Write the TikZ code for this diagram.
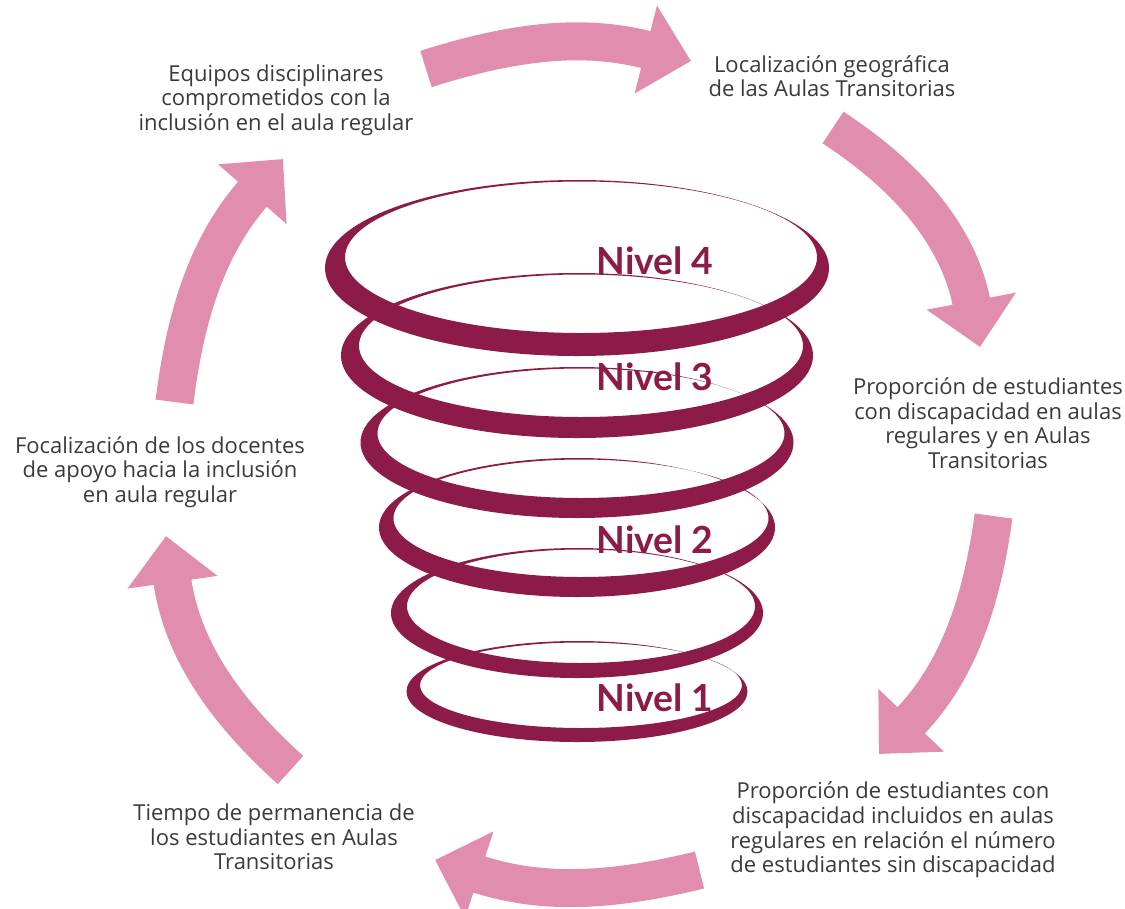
\documentclass[tikz,border=0pt]{standalone}
\usepackage{fontspec}
\setmainfont{Lato}
\newfontfamily\bodyfont{Open Sans}
\usetikzlibrary{arrows.meta}
\definecolor{ringred}{HTML}{8C1C47}
\definecolor{arrowpink}{HTML}{E08DAE}
\definecolor{textgray}{HTML}{3A3A3A}
\tikzset{bigarrow/.style={line width=28.5pt,draw=arrowpink,-{Triangle[length=35pt,width=66pt]}}}
\tikzset{infotext/.style={align=center,text=textgray,font=\bodyfont\fontsize{16.5}{18.4}\selectfont}}
\tikzset{leveltext/.style={text=ringred,font=\bfseries\fontsize{28}{30}\selectfont}}
\tikzset{ring/.style={fill=ringred,even odd rule}}

\begin{document}
\begin{tikzpicture}[x=0.75pt,y=0.75pt] % pixel grid, y taken negative
  \useasboundingbox (0,0) rectangle (1125,-908);

  % rings: outer ellipse minus a smaller one pushed up
  \foreach \cy/\rx/\ry/\cyi/\rxi/\ryi in {268/252/88/257.25/236/75.75,
      355.5/236/82.5/345.75/222/71.25, 442.5/216.5/75.5/433.25/203.5/64.75,
      527.5/198/69.5/518.25/187.5/58.75, 613/186/65/606.25/174/56.75,
      691.5/170.5/50.5/685.25/161/42.75}
    \fill[ring] (577,-\cy) ellipse [x radius=\rx, y radius=\ry]
                (581,-\cyi) ellipse [x radius=\rxi, y radius=\ryi];

  \node[leveltext] (n4) at (655,-261) {Nivel 4};
  \node[leveltext] (n3) at (655,-377) {Nivel 3};
  \node[leveltext] (n2) at (655,-540) {Nivel 2};
  \node[leveltext] (n1) at (655,-698) {Nivel 1};

  \node[infotext] (equipos) at (276,-100) {Equipos disciplinares\\comprometidos con la\\inclusión en el aula regular};
  \node[infotext] (localiz) at (832,-76) {Localización geográfica\\de las Aulas Transitorias};
  \node[infotext] (propaulas) at (988,-423) {Proporción de estudiantes\\con discapacidad en aulas\\regulares y en Aulas\\Transitorias};
  \node[infotext] (propnum) at (893,-830) {Proporción de estudiantes con\\discapacidad incluidos en aulas\\regulares en relación el número\\de estudiantes sin discapacidad};
  \node[infotext] (tiempo) at (274,-837) {Tiempo de permanencia de\\los estudiantes en Aulas\\Transitorias};
  \node[infotext] (focal) at (160,-472) {Focalización de los docentes\\de apoyo hacia la inclusión\\en aula regular};

  % arrow ends
  \coordinate (a1s) at (426,-69);    \coordinate (a1e) at (691,-61);
  \coordinate (a2s) at (833,-127.5); \coordinate (a2e) at (980,-347);
  \coordinate (a3s) at (993.5,-516); \coordinate (a3e) at (879,-754);
  \coordinate (a4s) at (699.5,-870); \coordinate (a4e) at (435,-860);
  \coordinate (a5s) at (290.5,-770); \coordinate (a5e) at (166,-536);
  \coordinate (a6s) at (174.5,-402); \coordinate (a6e) at (283,-159);

  \draw[bigarrow] (a1s) to[bend left=16] (a1e);
  \draw[bigarrow] (a2s) to[bend left=23] (a2e);
  \draw[bigarrow] (a3s) to[bend left=18] (a3e);
  \draw[bigarrow] (a4s) to[bend left=16] (a4e);
  \draw[bigarrow] (a5s) to[bend left=20] (a5e);
  \draw[bigarrow] (a6s) to[bend left=17] (a6e);
\end{tikzpicture}
\end{document}
